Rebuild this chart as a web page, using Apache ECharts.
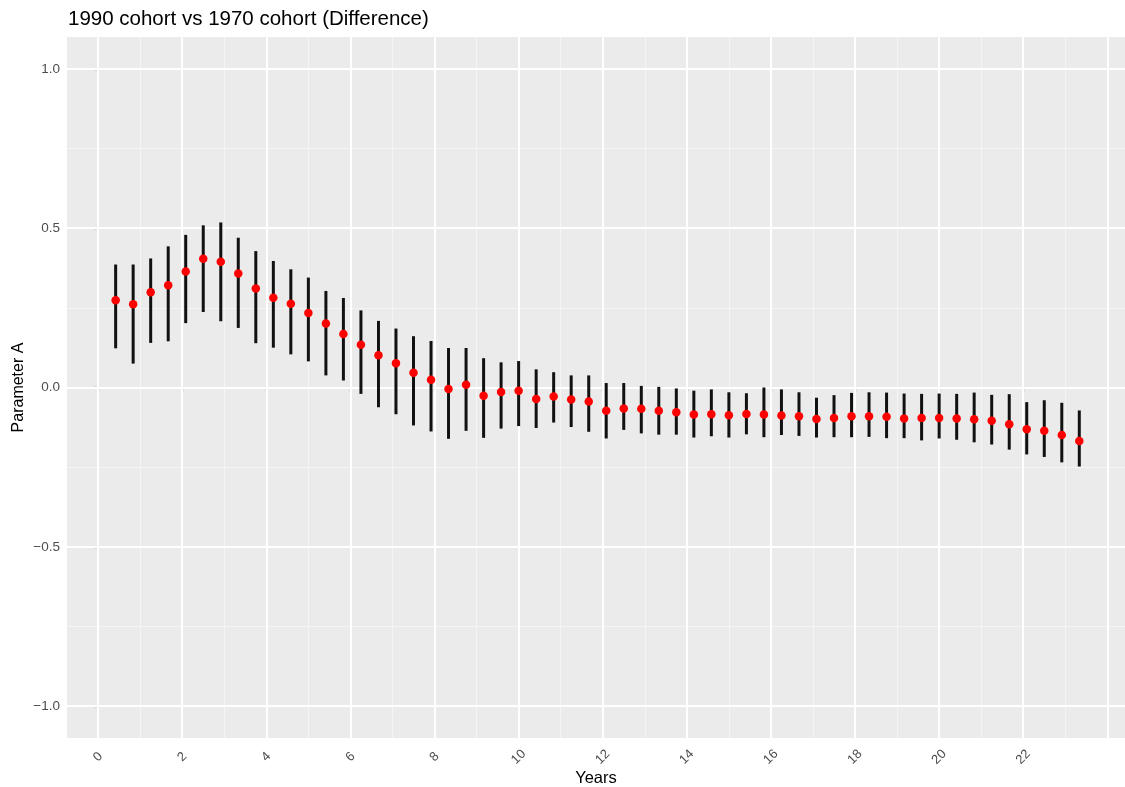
<!DOCTYPE html>
<html>
<head>
<meta charset="utf-8">
<script src="https://cdn.jsdelivr.net/npm/echarts@6/dist/echarts.min.js"></script>
<style>
html,body{margin:0;padding:0;background:#fff;}
#chart{width:1125px;height:787px;}
</style>
</head>
<body>
<div id="chart"></div>
<script>
// Years (x positions of each estimate)
var years = [0.417,0.833,1.25,1.667,2.083,2.5,2.917,3.333,3.75,4.167,4.583,5,5.417,5.833,6.25,6.667,7.083,7.5,7.917,8.333,8.75,9.167,9.583,10,10.417,10.833,11.25,11.667,12.083,12.5,12.917,13.333,13.75,14.167,14.583,15,15.417,15.833,16.25,16.667,17.083,17.5,17.917,18.333,18.75,19.167,19.583,20,20.417,20.833,21.25,21.667,22.083,22.5,22.917,23.333];
// Point estimates of Parameter A difference
var estimate = [0.274,0.261,0.299,0.321,0.364,0.404,0.395,0.358,0.311,0.282,0.263,0.234,0.201,0.168,0.134,0.101,0.076,0.046,0.024,-0.005,0.009,-0.026,-0.014,-0.010,-0.036,-0.028,-0.038,-0.044,-0.073,-0.066,-0.067,-0.073,-0.078,-0.085,-0.084,-0.087,-0.083,-0.085,-0.088,-0.090,-0.099,-0.096,-0.090,-0.090,-0.092,-0.097,-0.096,-0.096,-0.097,-0.100,-0.104,-0.115,-0.131,-0.136,-0.149,-0.168];
// Lower bounds of intervals
var lower = [0.123,0.075,0.140,0.145,0.202,0.237,0.208,0.187,0.139,0.125,0.104,0.082,0.038,0.022,-0.020,-0.062,-0.084,-0.119,-0.138,-0.161,-0.136,-0.158,-0.129,-0.121,-0.127,-0.110,-0.124,-0.139,-0.160,-0.133,-0.144,-0.148,-0.148,-0.157,-0.153,-0.157,-0.147,-0.156,-0.149,-0.152,-0.157,-0.156,-0.156,-0.155,-0.159,-0.159,-0.166,-0.160,-0.164,-0.172,-0.179,-0.195,-0.210,-0.218,-0.235,-0.248];
// Upper bounds of intervals
var upper = [0.386,0.386,0.405,0.443,0.479,0.509,0.518,0.470,0.428,0.397,0.371,0.345,0.303,0.281,0.242,0.209,0.185,0.161,0.146,0.124,0.124,0.092,0.079,0.083,0.057,0.048,0.038,0.038,0.014,0.014,0.005,0.002,-0.003,-0.010,-0.006,-0.015,-0.018,0.000,-0.006,-0.015,-0.032,-0.024,-0.017,-0.015,-0.016,-0.019,-0.020,-0.019,-0.020,-0.016,-0.023,-0.021,-0.046,-0.040,-0.048,-0.072];

// Tick labels
var xTicks = [0,2,4,6,8,10,12,14,16,18,20,22];
var yTicks = [-1,-0.5,0,0.5,1];
// Grid lines
var xMajorGrid = [0,2,4,6,8,10,12,14,16,18,20,22,24];
var xMinorGrid = [1,3,5,7,9,11,13,15,17,19,21,23];
var yMajorGrid = [-1,-0.5,0,0.5,1];
var yMinorGrid = [-0.75,-0.25,0.25,0.75];

var FONT = '"Liberation Sans", Arial, sans-serif';

var pts = years.map(function(x,i){ return [x, estimate[i]]; });
var bars = years.map(function(x,i){ return [x, lower[i], upper[i]]; });

var gridLines = [];
xMinorGrid.forEach(function(v){ gridLines.push({xAxis:v, lineStyle:{color:'#F5F5F5', width:1, type:'solid'}}); });
yMinorGrid.forEach(function(v){ gridLines.push({yAxis:v, lineStyle:{color:'#F5F5F5', width:1, type:'solid'}}); });
xMajorGrid.forEach(function(v){ gridLines.push({xAxis:v, lineStyle:{color:'#FFFFFF', width:2, type:'solid'}}); });
yMajorGrid.forEach(function(v){ gridLines.push({yAxis:v, lineStyle:{color:'#FFFFFF', width:2, type:'solid'}}); });

var chart = echarts.init(document.getElementById('chart'), null, {renderer:'canvas'});
chart.setOption({
  animation: false,
  backgroundColor: '#FFFFFF',
  title: {
    text: '1990 cohort vs 1970 cohort (Difference)',
    left: 63, top: 4,
    textStyle: {fontFamily: FONT, fontSize: 20.5, fontWeight: 'normal', color: '#000'}
  },
  grid: {
    left: 67, right: 0, top: 37, bottom: 49,
    containLabel: false, outerBoundsMode: 'none',
    show: true, backgroundColor: '#EBEBEB', borderWidth: 0
  },
  xAxis: {
    type: 'value', min: -0.74, max: 24.42,
    name: 'Years', nameLocation: 'middle', nameGap: 32, nameMoveOverlap: false,
    nameTextStyle: {fontFamily: FONT, fontSize: 16.5, color: '#000'},
    axisLine: {show: false},
    splitLine: {show: false},
    axisTick: {show: true, customValues: xTicks, length: 4, lineStyle: {color: '#333', width: 1.2}},
    axisLabel: {customValues: xTicks, rotate: 45, align: 'center', verticalAlign: 'middle', margin: 19,
      fontFamily: FONT, fontSize: 13, color: '#4D4D4D'}
  },
  yAxis: {
    type: 'value', min: -1.1, max: 1.1,
    name: 'Parameter A', nameLocation: 'middle', nameGap: 40, nameRotate: 90, nameMoveOverlap: false,
    nameTextStyle: {fontFamily: FONT, fontSize: 16, color: '#000'},
    axisLine: {show: false},
    splitLine: {show: false},
    axisTick: {show: true, customValues: yTicks, length: 4, lineStyle: {color: '#333', width: 1.2}},
    axisLabel: {customValues: yTicks, margin: 7, fontFamily: FONT, fontSize: 13.5, color: '#4D4D4D',
      formatter: function(v){ var s = Math.abs(v).toFixed(1); return v < 0 ? '\u2212' + s : s; }}
  },
  series: [
    {
      type: 'line', data: [], z: 1, silent: true,
      markLine: {
        silent: true, symbol: ['none','none'], z: 1, animation: false,
        label: {show: false},
        lineStyle: {type: 'solid'},
        data: gridLines
      }
    },
    {
      type: 'custom', z: 3, silent: true,
      data: bars,
      encode: {x: 0, y: [1, 2]},
      renderItem: function(params, api){
        var lo = api.coord([api.value(0), api.value(1)]);
        var hi = api.coord([api.value(0), api.value(2)]);
        return {
          type: 'line',
          shape: {x1: lo[0], y1: lo[1], x2: hi[0], y2: hi[1]},
          style: {stroke: '#111', lineWidth: 3}
        };
      }
    },
    {
      type: 'scatter', z: 4, silent: true,
      data: pts, symbol: 'circle', symbolSize: 8.5,
      itemStyle: {color: '#FF0000', opacity: 1}
    }
  ]
});
</script>
</body>
</html>
